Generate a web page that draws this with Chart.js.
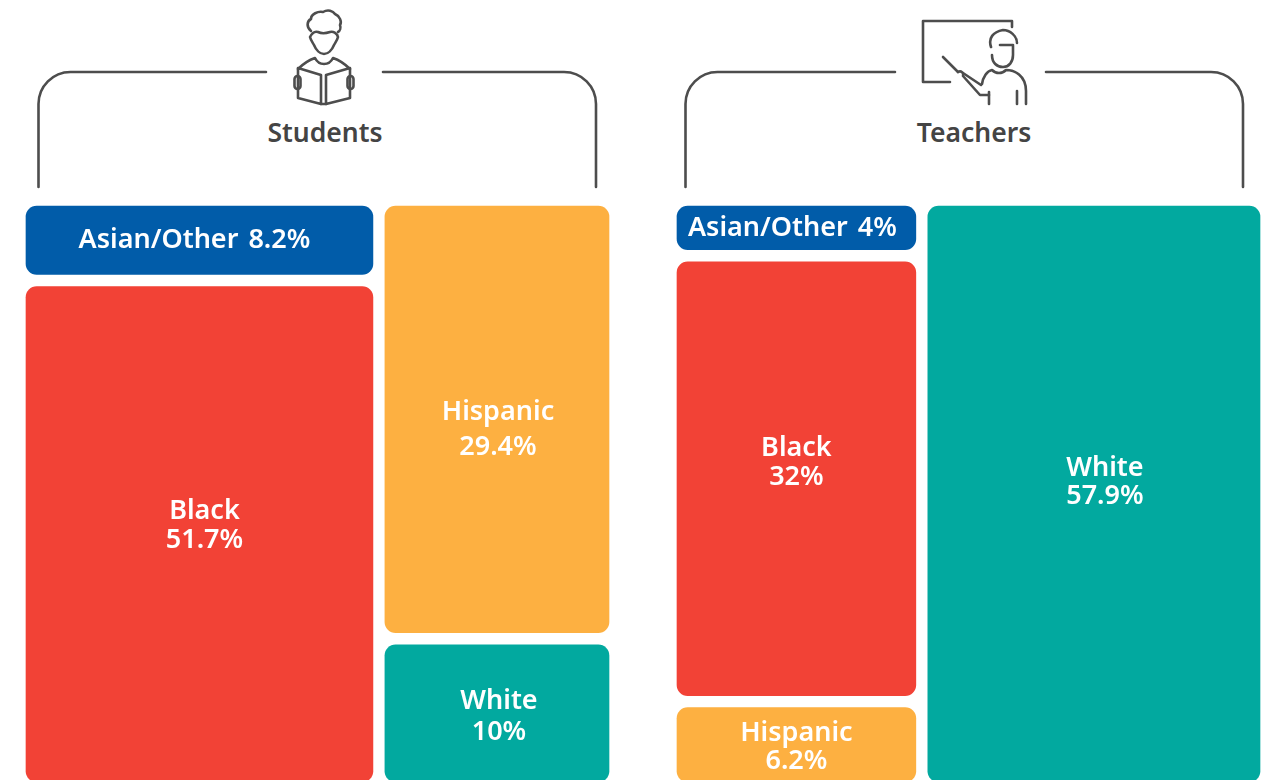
<!DOCTYPE html>
<html lang="en">
<head>
  <meta charset="UTF-8" />
  <title>Students and Teachers by Race</title>
  <script src="https://cdn.jsdelivr.net/npm/chart.js"></script>
  <style>
    html, body {
      margin: 0;
      width: 1264px;
      height: 780px;
      overflow: hidden;
      background: #fff;
      font-family: 'Noto Sans', sans-serif;
    }

    #art {
      position: absolute;
      left: 0;
      top: 0;
    }

    .art-line {
      fill: none;
      stroke: #4d4d4d;
      stroke-width: 2.6;
      stroke-linecap: round;
      stroke-linejoin: round;
    }

    .group-title {
      font-size: 26.5px;
      font-weight: 600;
      fill: #444;
      text-anchor: middle;
    }

    .panel {
      position: absolute;
      top: 200px;
      width: 595px;
      height: 588px;
    }

    #studentsPanel { left: 20px; }
    #teachersPanel { left: 671px; }
  </style>
</head>
<body>

  <!-- Brackets, icons and group titles -->
  <svg id="art" width="1264" height="780">
    <path class="art-line" d="M38.5 187 V104 A32 32 0 0 1 70.5 72 H266" />
    <path class="art-line" d="M383 72 H564 A32 32 0 0 1 596 104 V187" />
    <path class="art-line" d="M685.5 187 V104 A32 32 0 0 1 717.5 72 H895" />
    <path class="art-line" d="M1046 72 H1211 A32 32 0 0 1 1243 104 V187" />

    <g class="art-line" transform="translate(270,0)">
      <path d="M41 31 C36 27 37 21 41 19 C41 14 48 11 53 12 C58 9 63 11 65 14 C70 16 72 22 70 25 C71 28 70 31 68 32" />
      <path d="M40 37 C42 33 45 31 48 32 C52 34 57 33 60 32 C63 31 67 33 68 37 C67 41 65 43 64 45 C62 50 58 54 54 54 C50 54 46 50 44 45 C43 43 41 41 40 37 Z" />
      <path d="M28 69 C33 64 39 60 45 58 C47 62 50 64 54 64 C58 64 61 62 63 58 C69 60 75 64 80 69" />
      <path d="M28 68 L51 75 V104 L28 98 Z" />
      <path d="M56 75 L80 68 V98 L56 104 Z" />
      <path d="M51 104 H56" />
      <rect x="24.5" y="76" width="6" height="13" rx="3" />
      <rect x="77.5" y="76" width="6" height="13" rx="3" />
    </g>

    <g class="art-line" transform="translate(900,5)">
      <path d="M112 22 V16 H23 V77 H50" />
      <path d="M43 52 L58 67" />
      <path d="M58 67 C61 65 64 68 63 71 L80 90 H89" />
      <path d="M63 68 L81 80" />
      <path d="M89 87 V99" />
      <path d="M82 79 C83 72 87 66 92 65 C96 69 102 69 106 65 C114 65 126 70 126 86 V99" />
      <path d="M117 86 V99" />
      <path d="M92 50 C92 58 97 62 103 62 C109 62 113 57 113 50 V41" />
      <path d="M91 42 C88 33 93 27 103 25 C110 25 117 31 117 38" />
      <path d="M100 40 H113" />
    </g>

    <text class="group-title" x="325" y="142">Students</text>
    <text class="group-title" x="974" y="142">Teachers</text>
  </svg>

  <div class="panel" id="studentsPanel"><canvas id="studentsChart" width="595" height="588"></canvas></div>
  <div class="panel" id="teachersPanel"><canvas id="teachersChart" width="595" height="588"></canvas></div>

  <script>
    const categories = ["Asian/Other", "Black", "Hispanic", "White"];
    const categoryColors = ["#015ca9", "#f24236", "#fdb041", "#02a99f"];

    const studentValues = [8.2, 51.7, 29.4, 10];
    const studentColumns = [0, 0, 1, 1];
    const teacherValues = [4, 32, 6.2, 57.9];
    const teacherColumns = [0, 0, 0, 1];

    // label nudges from the centre of each box, in px
    const studentLabelDx = [-5, 5, 1, 2];
    const studentLabelDy = [0, -8, 10, 3];
    const studentLabelGap = [0, 29, 35, 31];
    const teacherLabelDx = [-4, 0, 0, 11];
    const teacherLabelDy = [0, -16, 3, -12];
    const teacherLabelGap = [0, 29, 28, 28];

    const labelFont = "600 27px 'Noto Sans', sans-serif";

    // white 6px border on every box leaves the 12px gutter between them
    const boxLabels = {
      id: "boxLabels",
      afterDatasetsDraw(chart, args, opts) {
        const ctx = chart.ctx;
        ctx.save();
        ctx.font = labelFont;
        ctx.wordSpacing = "3px";
        ctx.fillStyle = "#fff";
        ctx.textAlign = "center";
        ctx.textBaseline = "middle";
        chart.data.datasets.forEach((ds, i) => {
          const c = chart.getDatasetMeta(i).data[0].getCenterPoint();
          const x = c.x + opts.dx[i];
          const y = c.y + opts.dy[i];
          const text = ds.label;
          const pct = ds.percent + "%";
          if (opts.gap[i] === 0) {
            ctx.fillText(text + " " + pct, x, y);
          } else {
            ctx.fillText(text, x, y - opts.gap[i] / 2);
            ctx.fillText(pct, x, y + opts.gap[i] / 2);
          }
        });
        ctx.restore();
      }
    };

    function makeTreemap(canvasId, values, columns, dx, dy, gap) {
      const grandTotal = values.reduce((a, b) => a + b, 0);
      const canvas = document.getElementById(canvasId);
      const colTotals = [0, 0];
      values.forEach((v, i) => { colTotals[columns[i]] += v; });

      const used = [0, 0];
      const datasets = values.map((v, i) => {
        const col = columns[i];
        const start = used[col];
        used[col] += v;
        return {
          label: categories[i],
          percent: v,
          data: [{
            x: col === 0 ? colTotals[0] / 2 : colTotals[0] + colTotals[1] / 2,
            y: [start / colTotals[col] * 100, used[col] / colTotals[col] * 100]
          }],
          barThickness: canvas.width * colTotals[col] / grandTotal,
          grouped: false,
          backgroundColor: categoryColors[i],
          borderColor: "#fff",
          borderWidth: 6,
          borderRadius: 17,
          borderSkipped: false
        };
      });

      return new Chart(canvas, {
        type: "bar",
        data: { datasets },
        plugins: [boxLabels],
        options: {
          responsive: false,
          animation: false,
          layout: { padding: 0 },
          scales: {
            x: { type: "linear", display: false, offset: false, min: 0, max: grandTotal },
            y: { type: "linear", display: false, min: 0, max: 100, reverse: true }
          },
          plugins: {
            legend: { display: false },
            tooltip: { enabled: false },
            boxLabels: { dx, dy, gap }
          }
        }
      });
    }

    makeTreemap("studentsChart", studentValues, studentColumns, studentLabelDx, studentLabelDy, studentLabelGap);
    makeTreemap("teachersChart", teacherValues, teacherColumns, teacherLabelDx, teacherLabelDy, teacherLabelGap);
  </script>
</body>
</html>
